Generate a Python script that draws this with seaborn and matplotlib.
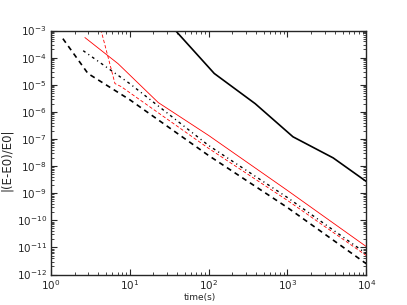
import numpy as np
import pandas as pd
import matplotlib
matplotlib.use("Agg")
import matplotlib.pyplot as plt
import seaborn as sns

# relative energy error vs time
t_solid = [35, 118, 390, 1175, 3800, 10000]
e_solid = [1.3e-3, 2.6e-5, 2.0e-6, 1.2e-7, 2.0e-8, 2.7e-9]

t_dash = [1.42, 2.95, 10, 100, 1000, 10000]
e_dash = [5.0e-4, 2.6e-5, 2.8e-6, 2.45e-8, 2.95e-10, 2.5e-12]

t_dashdot = [2.57, 10, 100, 1000, 10000]
e_dashdot = [1.8e-4, 1.1e-5, 5.75e-8, 6.9e-10, 5.9e-12]

t_red = [2.7, 7.1, 23, 100, 1000, 10000]
e_red = [5.5e-4, 6.0e-5, 2.2e-6, 1.35e-7, 1.26e-9, 1.07e-11]

t_reddash = [4.3, 6.5, 7.8, 100, 1000, 10000]
e_reddash = [1.1e-3, 1.1e-5, 8.5e-6, 4.5e-8, 5.4e-10, 5.0e-12]

sns.set_style("ticks")
plt.rcParams['font.family'] = ['DejaVu Sans']
plt.rcParams['xtick.direction'] = 'in'
plt.rcParams['ytick.direction'] = 'in'

fig = plt.figure(figsize=(4.07, 3.05), dpi=100)
ax = fig.add_axes([0.125, 0.1, 0.775, 0.8])

sns.lineplot(x=t_solid, y=e_solid, color='black', lw=1.2, ax=ax)
l1 = sns.lineplot(x=t_dash, y=e_dash, color='black', lw=1.2, ax=ax).lines[-1]
l1.set_dashes([3, 2.5])
l2 = sns.lineplot(x=t_dashdot, y=e_dashdot, color='black', lw=1.0, ax=ax).lines[-1]
l2.set_dashes([2, 2.5, 0.8, 2.5])
sns.lineplot(x=t_red, y=e_red, color='red', lw=0.6, ax=ax)
l3 = sns.lineplot(x=t_reddash, y=e_reddash, color='red', lw=0.6, ax=ax).lines[-1]
l3.set_dashes([4, 2.5])

ax.set_xscale('log')
ax.set_yscale('log')
ax.set_xlim(1, 1e4)
ax.set_ylim(1e-12, 1e-3)
ax.set_xlabel('time(s)', fontsize=6.5)
ax.set_ylabel('|(E-E0)/E0|', fontsize=8.5)
ax.xaxis.set_label_coords(0.473, -0.077)
ax.yaxis.set_label_coords(-0.12, 0.47)
ax.tick_params(which='both', top=True, right=True, labelsize=7.5, pad=3)
ax.tick_params(which='major', length=4)
ax.tick_params(which='minor', length=2)
ax.yaxis.set_major_locator(matplotlib.ticker.LogLocator(base=10, numticks=20))
ax.yaxis.set_minor_locator(matplotlib.ticker.LogLocator(base=10, subs=np.arange(2, 10), numticks=20))
for s in ax.spines.values():
    s.set_linewidth(1.0)

fig.savefig('out.png', dpi=100)
